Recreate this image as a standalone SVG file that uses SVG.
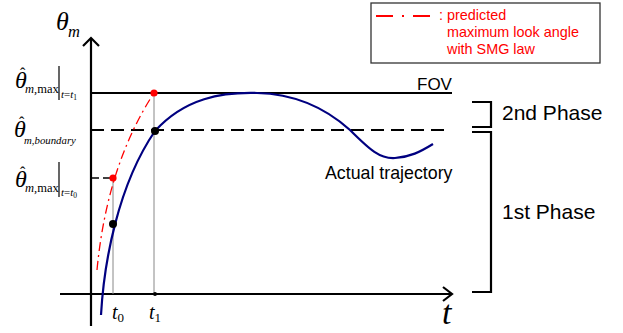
<svg xmlns="http://www.w3.org/2000/svg" width="623" height="333" viewBox="0 0 623 333">
<style>
.ax{stroke:#000;stroke-width:2.2;fill:none}
.thin{stroke:#888;stroke-width:1;fill:none}
.sans{font-family:"Liberation Sans",Arial,sans-serif;fill:#000}
.serif{font-family:"Liberation Serif","Times New Roman",serif;fill:#000}
.it{font-style:italic}
.red{fill:#ff0000}
.th{font-family:"Liberation Serif","Times New Roman",serif;font-style:italic;font-size:24px;fill:#000}
.hat{font-family:"Liberation Serif","Times New Roman",serif;font-size:16px;fill:#000}
</style>
<rect width="623" height="333" fill="#fff"/>
<g id="axes">
<line class="ax" x1="91" y1="38" x2="91" y2="326"/>
<polyline class="ax" points="83,46 91,38 99,46"/>
<line class="ax" x1="60" y1="294" x2="452" y2="294"/>
<polyline class="ax" points="443,287 452,294 443,301"/>
</g>
<g id="fov">
<line class="ax" x1="91" y1="93" x2="452" y2="93"/>
<text class="sans" x="417" y="90" font-size="17">FOV</text>
</g>
<g id="boundary">
<line class="ax" x1="91" y1="130" x2="450" y2="130" stroke-dasharray="13,7"/>
</g>
<g id="guides">
<line class="thin" x1="154" y1="93" x2="154" y2="294"/>
<line class="thin" x1="113" y1="178" x2="113" y2="294"/>
<line stroke="#000" stroke-width="1.6" x1="91" y1="178" x2="113" y2="178" stroke-dasharray="8,4"/>
</g>
<g id="predicted">
<path d="M97,270 Q107,165 154,93" fill="none" stroke="#ff0000" stroke-width="1.3" stroke-dasharray="9,4,2,4"/>
<circle cx="154" cy="93" r="3.6" fill="#ff0000"/>
<circle cx="113" cy="178" r="3.6" fill="#ff0000"/>
</g>
<g id="trajectory">
<path d="M101,315 C104,262 118,185 155,131 C185,98 222,92 257,93 C300,94 330,112 350,130 C370,150 380,159 395,158 C410,157 420,152 433,144" fill="none" stroke="#000080" stroke-width="2.2"/>
<circle cx="155" cy="131" r="4" fill="#000"/>
<circle cx="113" cy="224" r="4" fill="#000"/>
<circle cx="155" cy="294" r="2" fill="#000"/>
<text class="sans" x="325" y="179" font-size="17.8">Actual trajectory</text>
</g>
<g id="phase2">
<polyline class="ax" stroke-width="1.5" points="472,102 491,102 491,127 472,127"/>
<text class="sans" x="502" y="120" font-size="21">2nd Phase</text>
</g>
<g id="phase1">
<polyline class="ax" stroke-width="1.5" points="472,132 491,132 491,292 472,292"/>
<text class="sans" x="502" y="219" font-size="21">1st Phase</text>
</g>
<g id="legend">
<rect x="371" y="3" width="229" height="60" fill="#fff" stroke="#333" stroke-width="1.3"/>
<line x1="376" y1="16" x2="431" y2="16" stroke="#ff0000" stroke-width="2" stroke-dasharray="17,9,2,9"/>
<text class="sans red" x="439" y="20" font-size="14.4">:</text>
<text class="sans red" x="447" y="20" font-size="14.4">predicted</text>
<text class="sans red" x="447" y="37" font-size="14.4">maximum look angle</text>
<text class="sans red" x="447" y="54" font-size="14.4">with SMG law</text>
</g>
<g id="ylabel">
<text class="serif it" x="56" y="30" font-size="26">θ</text>
<text class="serif it" x="68" y="37" font-size="16.5">m</text>
</g>
<g id="label-max-t1">
<text class="hat" x="20" y="79">ˆ</text>
<text class="th" x="15" y="88">θ</text>
<text class="serif" x="25" y="93" font-size="12.5"><tspan font-style="italic">m</tspan>,max</text>
<line x1="59" y1="66" x2="59" y2="100" stroke="#000" stroke-width="1.2"/>
<text class="serif it" x="61" y="98" font-size="11">t<tspan font-style="normal">=</tspan>t<tspan font-size="7.5" dy="2" font-style="normal">1</tspan></text>
</g>
<g id="label-boundary">
<text class="hat" x="19" y="128">ˆ</text>
<text class="th" x="14" y="137">θ</text>
<text class="serif it" x="24" y="144" font-size="10.8">m,boundary</text>
</g>
<g id="label-max-t0">
<text class="hat" x="20" y="178">ˆ</text>
<text class="th" x="15" y="187">θ</text>
<text class="serif" x="25" y="192" font-size="12.5"><tspan font-style="italic">m</tspan>,max</text>
<line x1="59" y1="162" x2="59" y2="197" stroke="#000" stroke-width="1.2"/>
<text class="serif it" x="61" y="196" font-size="11">t<tspan font-style="normal">=</tspan>t<tspan font-size="7.5" dy="2" font-style="normal">0</tspan></text>
</g>
<g id="xlabels">
<text class="serif it" x="442" y="324" font-size="34">t</text>
<text class="serif it" x="112" y="319" font-size="20">t<tspan font-size="13" dy="3" font-style="normal">0</tspan></text>
<text class="serif it" x="149" y="319" font-size="20">t<tspan font-size="13" dy="3" font-style="normal">1</tspan></text>
</g>
</svg>
